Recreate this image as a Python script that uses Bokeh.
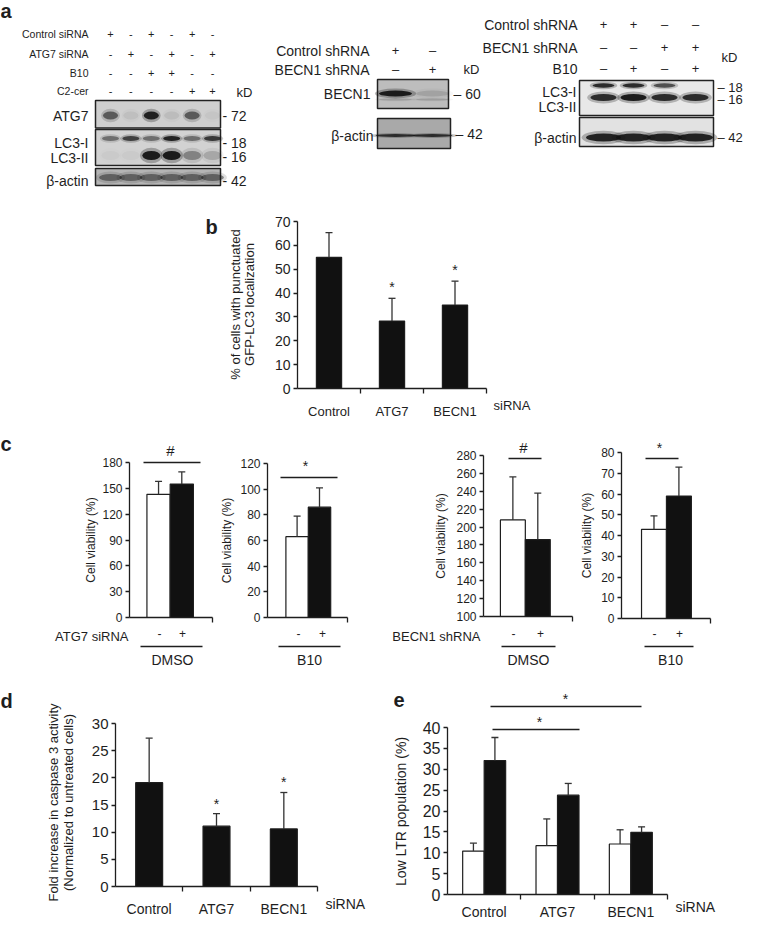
import math
from bokeh.plotting import figure
from bokeh.layouts import column, row
from bokeh.models import FixedTicker, Range1d
from bokeh.core.properties import value
from bokeh.embed import file_html
from bokeh.resources import INLINE

SANS = "Liberation Sans"
INK = "#1e1e1e"

# ---------------- data ----------------
# panel a (western blots): treatment signs and band intensities (0..1)
a1_rows = ["Control siRNA", "ATG7 siRNA", "B10", "C2-cer"]
a1_signs = [["+", "-", "+", "-", "+", "-"],
            ["-", "+", "-", "+", "-", "+"],
            ["-", "-", "+", "+", "-", "-"],
            ["-", "-", "-", "-", "+", "+"]]
a1_atg7 = [0.55, 0.06, 0.9, 0.08, 0.55, 0.04]
a1_lc3i = [0.45, 0.7, 0.45, 0.9, 0.45, 0.75]
a1_lc3ii = [0.03, 0.03, 0.95, 0.95, 0.35, 0.18]
a1_actin = [0.45, 0.45, 0.45, 0.45, 0.45, 0.45]
a1_kd = ["- 72", "- 18", "- 16", "- 42"]

a2_rows = ["Control shRNA", "BECN1 shRNA"]
a2_signs = [["+", "–"], ["–", "+"]]
a2_becn1 = [0.95, 0.12]
a2_actin = [0.8, 0.8]
a2_kd = ["– 60", "– 42"]

a3_rows = ["Control shRNA", "BECN1 shRNA", "B10"]
a3_signs = [["+", "+", "–", "–"], ["–", "–", "+", "+"], ["–", "+", "–", "+"]]
a3_lc3i = [0.85, 0.85, 0.65, 0.0]
a3_lc3ii = [0.85, 0.95, 0.85, 0.85]
a3_actin = [0.9, 0.9, 0.9, 0.9]
a3_kd = ["– 18", "– 16", "– 42"]

# panel b
b_cats = ["Control", "ATG7", "BECN1"]
b_mean = [55.0, 28.3, 35.0]
b_sd = [10.3, 9.5, 10.0]
b_sig = ["", "*", "*"]
b_yticks = [0, 10, 20, 30, 40, 50, 60, 70]

# panel c (white = "-", black = "+")
c_white = [143.0, 63.0, 208.0, 43.0]
c_white_sd = [15.0, 16.0, 48.0, 6.5]
c_black = [155.0, 86.0, 186.0, 59.0]
c_black_sd = [14.0, 15.0, 52.0, 14.0]
c_sig = ["#", "*", "#", "*"]
c_group = ["DMSO", "B10", "DMSO", "B10"]
c_yticks = [[0, 30, 60, 90, 120, 150, 180],
            [0, 20, 40, 60, 80, 100, 120],
            [100, 120, 140, 160, 180, 200, 220, 240, 260, 280],
            [0, 10, 20, 30, 40, 50, 60, 70, 80]]

# panel d
d_cats = ["Control", "ATG7", "BECN1"]
d_mean = [19.1, 11.1, 10.6]
d_sd = [8.2, 2.3, 6.7]
d_sig = ["", "*", "*"]
d_yticks = [0, 5, 10, 15, 20, 25, 30]

# panel e
e_cats = ["Control", "ATG7", "BECN1"]
e_white = [10.4, 11.7, 12.1]
e_white_sd = [1.9, 6.4, 3.4]
e_black = [32.1, 23.8, 14.9]
e_black_sd = [5.5, 2.8, 1.3]
e_yticks = [0, 5, 10, 15, 20, 25, 30, 35, 40]


# ---------------- helpers ----------------
class Panel:
    """Figure covering pixels fx0..fx1 horizontally and ry0..ry0+H vertically (page-reference
    coordinates); the data rectangle xr x yr maps onto pixels L..R, B..T."""

    def __init__(self, fx0, fx1, ry0, H, L, R, T, B, xr, yr, axes=True):
        self.L, self.R, self.T, self.B = L, R, T, B
        self.xr, self.yr = xr, yr
        self.sx = (xr[1] - xr[0]) / (R - L)
        self.sy = (yr[1] - yr[0]) / (B - T)
        kw = {}
        if not axes:
            kw = dict(x_axis_location=None, y_axis_location=None)
        p = figure(width=fx1 - fx0, height=H,
                   x_range=Range1d(self.X(fx0), self.X(fx1)),
                   y_range=Range1d(self.Y(ry0 + H), self.Y(ry0)),
                   output_backend="svg", toolbar_location=None,
                   min_border=0, title=None, **kw)
        p.outline_line_color = None
        p.xgrid.visible = False
        p.ygrid.visible = False
        p.background_fill_color = "white"
        p.border_fill_color = "white"
        self.p = p

    def X(self, px):
        return self.xr[0] + (px - self.L) * self.sx

    def Y(self, py):
        return self.yr[0] + (self.B - py) * self.sy

    def text(self, px, py, s, size, align="center", baseline="middle", bold=False, angle=0.0):
        self.p.text(x=[self.X(px)], y=[self.Y(py)], text=[s], text_font=value(SANS),
                    text_font_size=f"{size}px", text_align=align, text_baseline=baseline,
                    text_font_style="bold" if bold else "normal", angle=angle,
                    text_color=INK)

    def hline(self, px0, px1, py, width=1.3):
        self.p.segment(x0=[self.X(px0)], y0=[self.Y(py)], x1=[self.X(px1)], y1=[self.Y(py)],
                       line_color=INK, line_width=width)

    def axes(self, yticks, tick_size, xticks=(), xminor=(), xlabels=(), xlabel_size=13,
             x_standoff=10):
        p = self.p
        ya = p.yaxis[0]
        ya.fixed_location = self.xr[0]
        ya.bounds = (self.yr[0], self.yr[1])
        ya.ticker = FixedTicker(ticks=list(yticks))
        ya.major_tick_out = 4
        ya.major_tick_in = 0
        ya.minor_tick_out = 0
        ya.minor_tick_in = 0
        ya.axis_line_color = INK
        ya.axis_line_width = 1.3
        ya.major_tick_line_color = INK
        ya.major_tick_line_width = 1.3
        ya.major_label_text_font = SANS
        ya.major_label_text_font_size = f"{tick_size}px"
        ya.major_label_text_color = INK
        ya.major_label_standoff = 3
        xa = p.xaxis[0]
        xa.fixed_location = self.yr[0]
        xa.bounds = (self.xr[0], self.xr[1])
        xa.ticker = FixedTicker(ticks=list(xticks), minor_ticks=list(xminor))
        if xlabels:
            xa.major_label_overrides = {t: l for t, l in zip(xticks, xlabels)}
        xa.major_tick_out = 0
        xa.major_tick_in = 0
        xa.minor_tick_out = 5
        xa.minor_tick_in = 0
        xa.axis_line_color = INK
        xa.axis_line_width = 1.3
        xa.minor_tick_line_color = INK
        xa.minor_tick_line_width = 1.3
        xa.major_label_text_font = SANS
        xa.major_label_text_font_size = f"{xlabel_size}px"
        xa.major_label_text_color = INK
        xa.major_label_standoff = x_standoff

    def bars(self, xs, tops, sds, width, fill, bottom=0.0, cap_px=3.5):
        p = self.p
        p.vbar(x=xs, top=tops, bottom=bottom, width=width, fill_color=fill,
               line_color=INK, line_width=1.2)
        ends = [t + s for t, s in zip(tops, sds)]
        cw = cap_px * self.sx
        p.segment(x0=xs, y0=tops, x1=xs, y1=ends, line_color="#333333", line_width=1.3)
        p.segment(x0=[x - cw for x in xs], y0=ends, x1=[x + cw for x in xs], y1=ends,
                  line_color="#333333", line_width=1.3)
        return ends


def blot_box(p, x0, x1, y0, y1, fill):
    p.quad(left=[x0], right=[x1], top=[y0], bottom=[y1], fill_color=fill,
           line_color="#222222", line_width=1.5)


def bands(p, xs, y, intens, w, h, color="#141414"):
    n = len(xs)
    p.ellipse(x=xs, y=[y] * n, width=w * 1.25, height=h * 1.7, fill_color=color,
              fill_alpha=[a * 0.3 for a in intens], line_color=None)
    p.ellipse(x=xs, y=[y] * n, width=w, height=h, fill_color=color,
              fill_alpha=list(intens), line_color=None)


# ---------------- row A : blots ----------------
pa = Panel(0, 743, 0, 196, 0, 743, 0, 196, (0, 743), (196, 0), axes=False)
A = pa.p
pa.text(0, 10, "a", 20, align="left", bold=True)

# left blot
a1_x = [110 + 20.4 * i for i in range(len(a1_atg7))]
for r, (lab, signs) in enumerate(zip(a1_rows, a1_signs)):
    y = [33, 53, 72, 90][r]
    pa.text(88, y, lab, 10.5, align="right")
    for x, s in zip(a1_x, signs):
        pa.text(x, y, s, 11)
pa.text(236, 92, "kD", 13, align="left")
blot_box(A, 95, 220, 100, 127.5, "#cfcfcf")
blot_box(A, 95, 220, 129, 165, "#d2d2d2")
blot_box(A, 95, 220, 168, 185, "#b4b4b4")
bands(A, a1_x, 115, a1_atg7, 15, 8)
bands(A, a1_x, 138, a1_lc3i, 17, 5)
bands(A, a1_x, 155, a1_lc3ii, 18, 9)
bands(A, a1_x, 177, a1_actin, 23, 7)
for lab, y in zip(["ATG7", "LC3-I", "LC3-II", "β-actin"], [115, 142, 157, 180]):
    pa.text(88, y, lab, 14, align="right")
for lab, y in zip(a1_kd, [115, 142, 156, 180]):
    pa.text(222, y, lab, 14, align="left")

# middle blot
a2_x = [395, 432]
for r, (lab, signs) in enumerate(zip(a2_rows, a2_signs)):
    y = [50, 69][r]
    pa.text(369, y, lab, 14, align="right")
    for x, s in zip(a2_x, signs):
        pa.text(x, y, s, 13)
pa.text(463, 69, "kD", 13, align="left")
blot_box(A, 377, 448, 79, 108, "#bdbdbd")
blot_box(A, 377, 450, 118, 148, "#a9a9a9")
bands(A, a2_x, 93, a2_becn1, 33, 6)
bands(A, a2_x, 99, [0.15, 0.15], 33, 2)
bands(A, a2_x, 135, a2_actin, 40, 3)
pa.text(370, 93, "BECN1", 14, align="right")
pa.text(373, 135, "β-actin", 14, align="right")
pa.text(453, 93, a2_kd[0], 14, align="left")
pa.text(455, 133, a2_kd[1], 14, align="left")

# right blot
a3_x = [603, 633, 664, 695]
for r, (lab, signs) in enumerate(zip(a3_rows, a3_signs)):
    y = [24, 47, 68][r]
    pa.text(577, y, lab, 14, align="right")
    for x, s in zip(a3_x, signs):
        pa.text(x, y, s, 13)
pa.text(721, 57, "kD", 13, align="left")
blot_box(A, 579, 713, 80, 115, "#e8e8e8")
blot_box(A, 579, 713, 117, 146, "#e2e2e2")
bands(A, a3_x, 85, a3_lc3i, 22, 4.5)
bands(A, a3_x, 97, a3_lc3ii, 26, 7)
bands(A, a3_x, 137, a3_actin, 35, 8)
pa.text(576, 91, "LC3-I", 14, align="right")
pa.text(576, 106, "LC3-II", 14, align="right")
pa.text(576, 137, "β-actin", 14, align="right")
for lab, y in zip(a3_kd, [87, 99, 137]):
    pa.text(717, y, lab, 13, align="left")

# ---------------- row B : panel b ----------------
pb = Panel(0, 743, 200, 230, 297, 486, 225, 392, (0, 3), (0, 70))
bx = [i + 0.5 for i in range(len(b_cats))]
pb.axes(b_yticks, 14, xticks=bx, xminor=[1, 2, 3], xlabels=b_cats, xlabel_size=13,
        x_standoff=10)
ends = pb.bars(bx, b_mean, b_sd, 0.4, "#111111")
for x, e, s in zip(bx, ends, b_sig):
    if s:
        pb.p.text(x=[x], y=[e + 1.5], text=[s], text_font=value(SANS), text_font_size="14px",
                  text_align="center", text_baseline="bottom", text_color=INK)
pb.text(493, 409, "siRNA", 13, align="left")
pb.text(205, 230, "b", 20, align="left", bold=True)
pb.text(235, 308, "% of cells with punctuated", 13, angle=math.pi / 2)
pb.text(249, 308, "GFP-LC3 localization", 13, angle=math.pi / 2)

# ---------------- row C : panel c ----------------
c_geo = [
    # fx0, fx1, L, R, T, B, yr
    (0, 215, 129, 212, 472, 627, (0, 180)),
    (215, 362, 267, 347, 473, 627, (0, 120)),
    (362, 577, 483, 572, 465, 626, (100, 280)),
    (577, 743, 621, 710, 462, 628, (0, 80)),
]
c_centers = [0.49, 0.51, 0.47, 0.505]
c_ylab_x = [90, 226, 440, 586]
c_sig_geo = [(170, 460, 143, 200, 472), (305, 475, 280, 337, 487),
             (523, 457, 508, 541, 468), (659, 457, 645, 678, 468)]
c_sign_x = [(159, 182), (298, 322), (513, 540), (654, 679)]
c_line = [(140, 202), (278, 340), (501, 555), (644, 693)]
c_grp_x = [172, 309, 528, 670]
pcs = []
for i in range(4):
    fx0, fx1, L, R, T, B, yr = c_geo[i]
    pc = Panel(fx0, fx1, 436, 254, L, R, T, B, (0, 1), yr)
    pc.axes(c_yticks[i], 12, xticks=[], xminor=[1])
    w = 0.28
    cx = c_centers[i]
    pc.bars([cx - w / 2], [c_white[i]], [c_white_sd[i]], w, "white", bottom=yr[0])
    pc.bars([cx + w / 2], [c_black[i]], [c_black_sd[i]], w, "#111111", bottom=yr[0])
    sx, sy, l0, l1, ly = c_sig_geo[i]
    pc.text(sx, sy, c_sig[i], 15 if c_sig[i] == "#" else 14)
    pc.hline(l0, l1, ly)
    pc.text(c_ylab_x[i], (T + B) / 2, "Cell viability (%)", 12, angle=math.pi / 2)
    pc.text(c_sign_x[i][0], 643, "-", 12)
    pc.text(c_sign_x[i][1], 643, "+", 12)
    pc.hline(c_line[i][0], c_line[i][1], 656)
    pc.text(c_grp_x[i], 669, c_group[i], 14)
    pcs.append(pc)
pcs[0].text(128, 646, "ATG7 siRNA", 13, align="right")
pcs[2].text(480, 646, "BECN1 shRNA", 13, align="right")
pcs[0].text(0, 453, "c", 20, align="left", bold=True)

# ---------------- row D : panels d and e ----------------
pd_ = Panel(0, 380, 696, 239, 115, 317, 739, 902, (0, 3), (0, 30))
dx = [i + 0.5 for i in range(len(d_cats))]
pd_.axes(d_yticks, 15, xticks=dx, xminor=[1, 2, 3], xlabels=d_cats, xlabel_size=14,
         x_standoff=9)
ends = pd_.bars(dx, d_mean, d_sd, 0.4, "#111111")
for x, e, s in zip(dx, ends, d_sig):
    if s:
        pd_.p.text(x=[x], y=[e + 0.4], text=[s], text_font=value(SANS), text_font_size="14px",
                   text_align="center", text_baseline="bottom", text_color=INK)
pd_.text(325, 919, "siRNA", 14, align="left")
pd_.text(0, 716, "d", 20, align="left", bold=True)
pd_.text(53, 818, "Fold increase in caspase 3 activity", 13, angle=math.pi / 2)
pd_.text(68, 818, "(Normalized to untreated cells)", 13, angle=math.pi / 2)

pe = Panel(380, 743, 696, 239, 447, 667, 743, 910, (0, 3), (0, 40))
ex = [i + 0.5 for i in range(len(e_cats))]
pe.axes(e_yticks, 16, xticks=ex, xminor=[1, 2, 3], xlabels=e_cats, xlabel_size=14,
        x_standoff=4)
ew = 0.293
pe.bars([x - ew / 2 for x in ex], e_white, e_white_sd, ew, "white")
pe.bars([x + ew / 2 for x in ex], e_black, e_black_sd, ew, "#111111")
pe.text(675, 922, "siRNA", 14, align="left")
pe.text(393, 715, "e", 20, align="left", bold=True)
pe.text(400, 827, "Low LTR population (%)", 14, angle=math.pi / 2)
pe.hline(490, 641, 722)
pe.text(565, 714, "*", 14)
pe.hline(492, 579, 745)
pe.text(539, 737, "*", 14)

layout = column(pa.p, pb.p, row(*[c.p for c in pcs]), row(pd_.p, pe.p))
open("out.html", "w").write(file_html(layout, INLINE))
